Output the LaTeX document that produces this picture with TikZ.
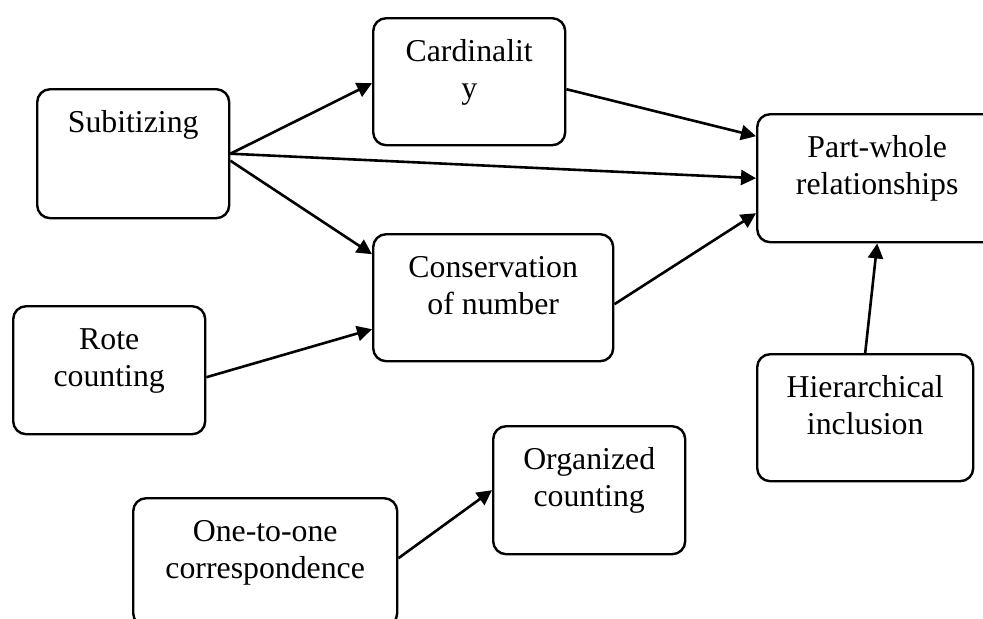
\documentclass[tikz,border=0pt]{standalone}
\usepackage{fontspec}
\setmainfont{Liberation Serif}
\usetikzlibrary{arrows.meta,calc}
\newlength\pxu
\setlength\pxu{0.5pt}
\newcommand\boxtext[3]{\parbox[t][#2\pxu][t]{#1\pxu}{\centering\rule{0pt}{21.5pt}#3\par}}
\tikzset{
  box/.style={draw, line width=1.2pt, rounded corners=6.5pt, inner sep=0pt, anchor=north west,
    font=\fontsize{15.9pt}{18.4pt}\selectfont},
  conn/.style={line width=1.3pt, -{Triangle[length=7.5pt,width=7.5pt]}}
}
\begin{document}
\begin{tikzpicture}[x=0.5pt, y=-0.5pt]
\useasboundingbox (0,0) rectangle (983,618);
\node[box] (sub)  at (36,88)   {\boxtext{192}{129}{Subitizing}};
\node[box] (card) at (372,17)  {\boxtext{192}{127}{Cardinalit\\y}};
\node[box] (pw)   at (756,113) {\boxtext{240}{128}{Part-whole\\relationships}};
\node[box] (cons) at (372,233) {\boxtext{240}{127}{Conservation\\of number}};
\node[box] (rote) at (12,305)  {\boxtext{192}{128}{Rote\\counting}};
\node[box] (hier) at (756,353) {\boxtext{216}{127}{Hierarchical\\inclusion}};
\node[box] (org)  at (492,425) {\boxtext{192}{128}{Organized\\counting}};
\node[box] (one)  at (132,497) {\boxtext{264}{128}{One-to-one\\correspondence}};

\draw[conn] (sub.east) -- ($(card.west)+(0,1.5)$);
\draw[conn] (sub.east) -- (pw.west);
\draw[conn] ($(sub.east)+(0,7)$) -- ($(cons.west)+(0,-43.5)$);
\draw[conn] ($(card.east)+(0,7.5)$) -- ($(pw.west)+(0,-42)$);
\draw[conn] ($(cons.east)+(0,6.5)$) -- ($(pw.west)+(0,35)$);
\draw[conn] ($(rote.east)+(0,7)$) -- ($(cons.west)+(0,31.5)$);
\draw[conn] (hier.north) -- (pw.south);
\draw[conn] ($(one.east)+(0,-4)$) -- (org.west);
\end{tikzpicture}
\end{document}
